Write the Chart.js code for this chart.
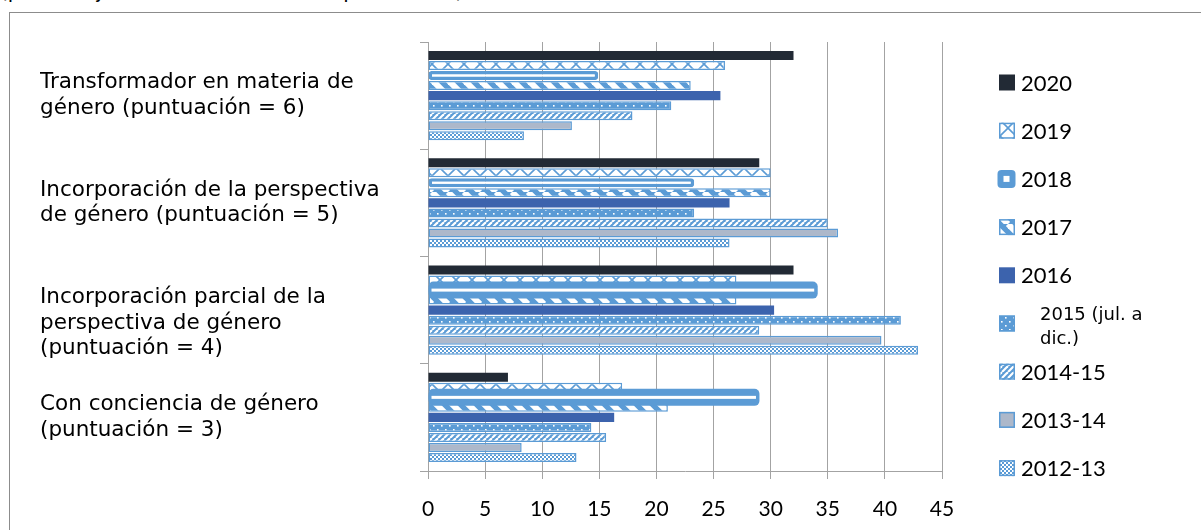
<!DOCTYPE html>
<html>
<head>
<meta charset="utf-8">
<script src="https://cdn.jsdelivr.net/npm/chart.js@4.4.0/dist/chart.umd.min.js"></script>
<style>
  body { margin: 0; background: #fff; }
  #wrap { position: relative; width: 1201px; height: 530px; overflow: hidden; }
  #caption { position: absolute; left: 0; top: -21px; font: 20px "DejaVu Sans"; white-space: nowrap; color: #000; }
  #frame { position: absolute; left: 9px; top: 12px; width: 1300px; height: 600px; border: 1px solid #8c8c8c; }
  canvas { position: absolute; left: 0; top: 0; }
</style>
</head>
<body>
<div id="wrap">
  <div id="caption">(porcentaje de entidades en cada puntuación)</div>
  <div id="frame"></div>
  <canvas id="myChart" width="1201" height="530"></canvas>
</div>
<script>
// categories (top to bottom) and series
// (the third label starts with an empty line, it sits lower in the original)
const categories = [
    ['Transformador en materia de', 'género (puntuación = 6)'],
    ['Incorporación de la perspectiva', 'de género (puntuación = 5)'],
    ['', 'Incorporación parcial de la', 'perspectiva de género', '(puntuación = 4)'],
    ['Con conciencia de género', '(puntuación = 3)']
];
const seriesNames = ['2020', '2019', '2018', '2017', '2016', '2015 (jul. a dic.)', '2014-15', '2013-14', '2012-13'];
const v2020 = [32, 29, 32, 7];
const v2019 = [26, 30, 27, 17];
const v2018 = [14.9, 23.3, 33.9, 28.8];
const v2017 = [23, 30, 27, 21];
const v2016 = [25.6, 26.4, 30.3, 16.3];
const v2015 = [21.3, 23.3, 41.4, 14.3];
const v2014_15 = [17.9, 35, 29, 15.6];
const v2013_14 = [12.6, 35.9, 39.7, 8.2];
const v2012_13 = [8.4, 26.4, 42.9, 13];
const xTicks = [0, 5, 10, 15, 20, 25, 30, 35, 40, 45];

const blue = '#5B9BD5';
const grid = '#A3A3A3';
let ctx = document.getElementById('myChart').getContext('2d');
let myChart;

function makePattern(w, h, draw) {
    const c = document.createElement('canvas');
    c.width = w;
    c.height = h;
    draw(c.getContext('2d'), w, h);
    return ctx.createPattern(c, 'repeat');
}

function diag(g, s, dir) {
    // lines across the tile, repeated so the tile joins up
    for (let k = -1; k <= 1; k++) {
        g.beginPath();
        if (dir > 0) { g.moveTo(k * s, s); g.lineTo(k * s + s, 0); }
        else { g.moveTo(k * s, 0); g.lineTo(k * s + s, s); }
        g.stroke();
    }
}

const pat2019 = makePattern(16, 16, (g, w, h) => {
    g.fillStyle = '#fff'; g.fillRect(0, 0, w, h);
    g.strokeStyle = blue; g.lineWidth = 1.6;
    diag(g, 16, 1); diag(g, 16, -1);
});
const pat2017 = makePattern(16, 16, (g, w, h) => {
    g.fillStyle = blue; g.fillRect(0, 0, w, h);
    g.strokeStyle = '#fff'; g.lineWidth = 6;
    diag(g, 16, -1);
});
const pat2015 = makePattern(8, 8, (g, w, h) => {
    g.fillStyle = blue; g.fillRect(0, 0, w, h);
    g.fillStyle = '#fff';
    g.fillRect(1, 1, 1.6, 1.6);
    g.fillRect(5, 5, 1.6, 1.6);
});
const pat2014 = makePattern(6, 6, (g, w, h) => {
    g.fillStyle = blue; g.fillRect(0, 0, w, h);
    g.strokeStyle = '#fff'; g.lineWidth = 2.2;
    diag(g, 6, 1);
});
const pat2012 = makePattern(4, 4, (g, w, h) => {
    g.fillStyle = '#fff'; g.fillRect(0, 0, w, h);
    g.fillStyle = blue;
    g.fillRect(0, 0, 2, 2);
    g.fillRect(2, 2, 2, 2);
});

// 2018 is drawn with a heavier outline on the two lower categories
const thick2018 = [2, 3];

const thickBarPlugin = {
    id: 'thick2018',
    afterDatasetsDraw(chart) {
        const meta = chart.getDatasetMeta(2);
        const c = chart.ctx;
        thick2018.forEach(i => {
            const p = meta.data[i].getProps(['x', 'y', 'base'], true);
            const len = p.x - p.base;
            c.save();
            c.fillStyle = blue;
            c.beginPath();
            c.roundRect(p.base, p.y - 8.5, len + 2.5, 17, 5);
            c.fill();
            c.fillStyle = '#fff';
            c.fillRect(p.base + 3, p.y - 1.5, len - 4, 3);
            c.restore();
        });
    }
};

const sideLegend = {
    id: 'sideLegend',
    afterDraw(chart) {
        const c = chart.ctx;
        c.save();
        chart.data.datasets.forEach((ds, i) => {
            const cy = 82.5 + i * 48.2;
            if (i === 2) {
                c.fillStyle = blue;
                c.beginPath();
                c.roundRect(997.5, cy - 9, 18, 18, 4);
                c.fill();
                c.fillStyle = '#fff';
                c.fillRect(1003.5, cy - 3, 6, 6);
            } else {
                c.fillStyle = ds.backgroundColor;
                c.fillRect(999, cy - 8, 16, 16);
                if (ds.borderWidth) {
                    c.strokeStyle = blue;
                    c.lineWidth = 1.5;
                    c.strokeRect(999.75, cy - 7.25, 14.5, 14.5);
                }
            }
            c.fillStyle = '#000';
            c.textBaseline = 'middle';
            c.textAlign = 'left';
            if (i === 5) {
                c.font = '18px "DejaVu Sans"';
                c.fillText('2015 (jul. a', 1040, cy - 8);
                c.fillText('dic.)', 1040, cy + 16);
            } else {
                c.font = '22px Lato';
                c.fillText(ds.label, 1021, cy + 1);
            }
        });
        c.restore();
    }
};

function barSet(i, data, bg, extra) {
    return Object.assign({
        label: seriesNames[i],
        data: data,
        backgroundColor: bg,
        borderColor: blue,
        borderWidth: 1.5,
        borderSkipped: false,
        categoryPercentage: 0.84,
        barPercentage: 0.9
    }, extra || {});
}

myChart = new Chart(ctx, {
    type: 'bar',
    data: {
        labels: categories,
        datasets: [
            barSet(0, v2020, '#222A35', { borderWidth: 0 }),
            barSet(1, v2019, pat2019),
            barSet(2, v2018, '#fff', { borderWidth: 3.5, borderRadius: 3 }),
            barSet(3, v2017, pat2017),
            barSet(4, v2016, '#3C63AD', { borderWidth: 0 }),
            barSet(5, v2015, pat2015),
            barSet(6, v2014_15, pat2014),
            barSet(7, v2013_14, '#ADB8CA'),
            barSet(8, v2012_13, pat2012)
        ]
    },
    options: {
        indexAxis: 'y',
        responsive: false,
        animation: false,
        layout: { padding: { left: 40, right: 259, top: 42, bottom: 0 } },
        plugins: {
            legend: { display: false },
            tooltip: { enabled: false }
        },
        scales: {
            x: {
                min: 0,
                max: 45,
                afterBuildTicks: s => { s.ticks = xTicks.map(v => ({ value: v })); },
                afterFit: s => { s.height = 59; },
                ticks: { font: { family: 'Lato', size: 21 }, color: '#000', padding: 18 },
                grid: { color: grid, tickLength: 8 },
                border: { color: grid }
            },
            y: {
                afterFit: s => { s.width = 388; },
                ticks: {
                    crossAlign: 'far',
                    font: { family: 'DejaVu Sans', size: 21.5, lineHeight: 1.2 },
                    color: '#000'
                },
                grid: { offset: true, drawOnChartArea: false, tickLength: 8, color: grid },
                border: { color: grid }
            }
        }
    },
    plugins: [thickBarPlugin, sideLegend]
});
</script>
</body>
</html>
